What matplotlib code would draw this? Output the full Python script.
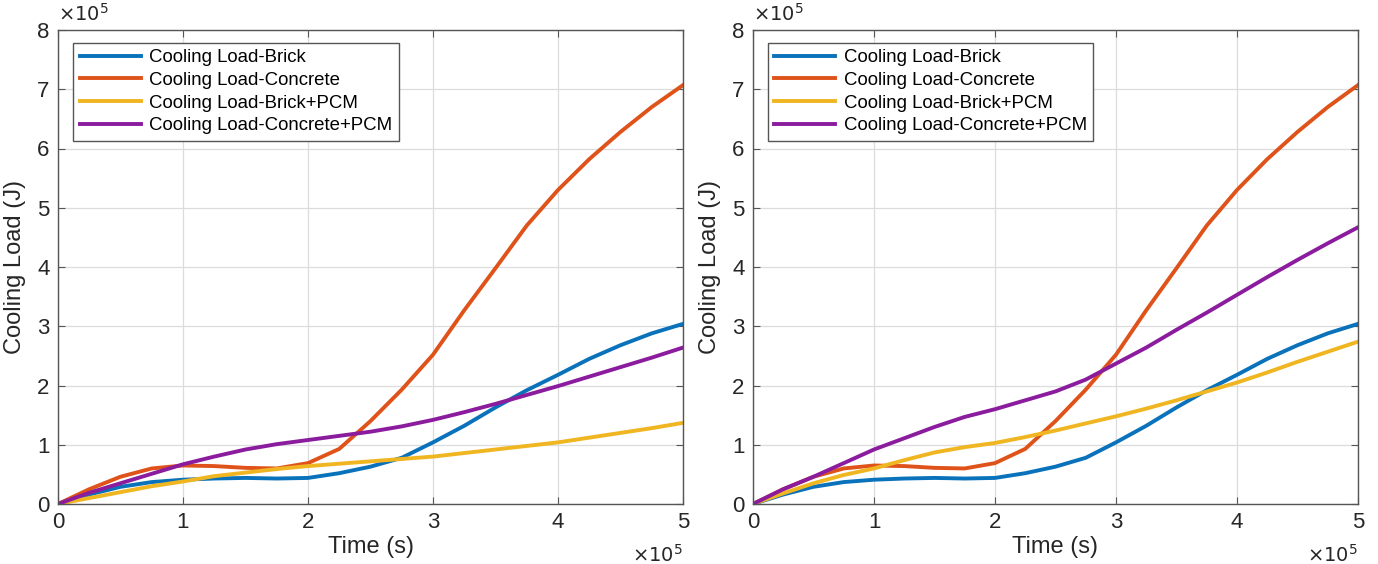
import matplotlib
matplotlib.use("Agg")
import matplotlib.pyplot as plt

plt.rcParams['font.family'] = ['Liberation Sans', 'DejaVu Sans']

# Time in units of 1e5 s, cooling load in units of 1e5 J
time = [0, 0.25, 0.5, 0.75, 1.0, 1.25, 1.5, 1.75, 2.0, 2.25, 2.5,
        2.75, 3.0, 3.25, 3.5, 3.75, 4.0, 4.25, 4.5, 4.75, 5.0]

brick = [0, 0.16, 0.29, 0.37, 0.41, 0.43, 0.44, 0.43, 0.44, 0.52, 0.63,
         0.78, 1.04, 1.32, 1.63, 1.92, 2.18, 2.45, 2.68, 2.88, 3.04]
concrete = [0, 0.25, 0.46, 0.60, 0.65, 0.64, 0.61, 0.60, 0.69, 0.93, 1.40,
            1.93, 2.52, 3.27, 3.98, 4.70, 5.30, 5.82, 6.28, 6.70, 7.07]

brick_pcm_left = [0, 0.10, 0.20, 0.30, 0.38, 0.47, 0.53, 0.59, 0.64, 0.68, 0.72,
                  0.76, 0.80, 0.86, 0.92, 0.98, 1.04, 1.12, 1.20, 1.28, 1.37]
concrete_pcm_left = [0, 0.19, 0.35, 0.51, 0.67, 0.80, 0.92, 1.01, 1.08, 1.15, 1.22,
                     1.31, 1.42, 1.55, 1.69, 1.84, 1.99, 2.15, 2.31, 2.47, 2.64]

brick_pcm_right = [0, 0.18, 0.35, 0.49, 0.60, 0.74, 0.87, 0.96, 1.03, 1.13, 1.24,
                   1.36, 1.48, 1.61, 1.75, 1.90, 2.05, 2.22, 2.40, 2.57, 2.74]
concrete_pcm_right = [0, 0.25, 0.46, 0.69, 0.92, 1.11, 1.30, 1.47, 1.60, 1.75, 1.90,
                      2.10, 2.37, 2.64, 2.94, 3.23, 3.53, 3.83, 4.12, 4.40, 4.67]

labels = ["Cooling Load-Brick", "Cooling Load-Concrete",
          "Cooling Load-Brick+PCM", "Cooling Load-Concrete+PCM"]
colors = ["#0A72BA", "#DF531A", "#F0B622", "#8B1C9E"]

xticks = [0, 1, 2, 3, 4, 5]
yticks = [0, 1, 2, 3, 4, 5, 6, 7, 8]

W, H = 1378, 564
fig = plt.figure(figsize=(W / 100, H / 100), dpi=100)

panels = [
    ((58, 30, 683, 504), [brick, concrete, brick_pcm_left, concrete_pcm_left]),
    ((753, 30, 1358, 504), [brick, concrete, brick_pcm_right, concrete_pcm_right]),
]

for (x0, y0, x1, y1), series in panels:
    ax = fig.add_axes([x0 / W, 1 - y1 / H, (x1 - x0) / W, (y1 - y0) / H])
    for s, c, lab in zip(series, colors, labels):
        ax.plot(time, s, color=c, lw=2.8, label=lab, solid_joinstyle='round')
    ax.set_xlim(0, 5)
    ax.set_ylim(0, 8)
    ax.set_xticks(xticks)
    ax.set_yticks(yticks)
    ax.grid(True, color="#dcdcdc", lw=0.9)
    ax.set_axisbelow(True)
    for sp in ax.spines.values():
        sp.set_color("#555555")
        sp.set_linewidth(1.0)
    ax.tick_params(direction='in', top=True, right=True, length=5,
                   labelsize=16, colors="#555555", labelcolor="#262626", pad=6)
    ax.set_xlabel("Time (s)", fontsize=17, color="#262626", labelpad=2)
    ax.set_ylabel("Cooling Load (J)", fontsize=17, color="#262626", labelpad=8)
    leg = ax.legend(loc='upper left', bbox_to_anchor=(0.024, 0.973), fontsize=13.4,
                    fancybox=False, framealpha=1, edgecolor="#555555",
                    handlelength=3.3, handletextpad=0.45, borderpad=0.35,
                    labelspacing=0.3, borderaxespad=0)
    leg.get_frame().set_linewidth(1.0)
    ax.text(0.0, 1.012, r"$\times10^{5}$", transform=ax.transAxes, fontsize=14,
            color="#262626", ha='left', va='bottom')
    ax.text(1.0, -0.085, r"$\times10^{5}$", transform=ax.transAxes, fontsize=14,
            color="#262626", ha='right', va='top')

fig.savefig("out.png", dpi=100)
